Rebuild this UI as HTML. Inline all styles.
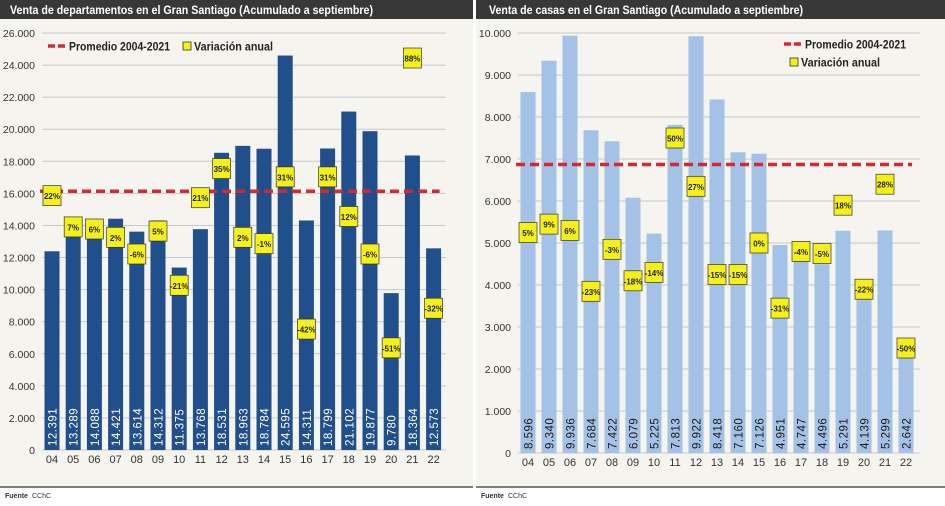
<!DOCTYPE html>
<html><head><meta charset="utf-8"><style>
body{margin:0;width:945px;height:506px;background:#fff;overflow:hidden;font-family:"Liberation Sans",sans-serif}
svg{position:absolute;top:0}
</style></head><body>
<svg id="c1" style="left:0" width="473" height="506"></svg>
<svg id="c2" style="left:476" width="469" height="506"></svg>
<script>
const years=["04","05","06","07","08","09","10","11","12","13","14","15","16","17","18","19","20","21","22"];
const deptValues=[12391,13289,14088,14421,13614,14312,11375,13768,18531,18963,18784,24595,14311,18799,21102,19877,9780,18364,12573];
const deptVar=[22,7,6,2,-6,5,-21,21,35,2,-1,31,-42,31,12,-6,-51,88,-32];
const deptTicks=[0,2000,4000,6000,8000,10000,12000,14000,16000,18000,20000,22000,24000,26000];
const deptAvg=16130;
const casaValues=[8596,9340,9936,7684,7422,6079,5225,7813,9922,8418,7160,7126,4951,4747,4496,5291,4139,5299,2642];
const casaVar=[5,9,6,-23,-3,-18,-14,50,27,-15,-15,0,-31,-4,-5,18,-22,28,-50];
const casaTicks=[0,1000,2000,3000,4000,5000,6000,7000,8000,9000,10000];
const casaAvg=6870;
const NS="http://www.w3.org/2000/svg";
function fmt(v){return v.toString().replace(/\B(?=(\d{3})+(?!\d))/g,".");}
function mk(p,t,a,txt){const e=document.createElementNS(NS,t);for(const k in a)e.setAttribute(k,a[k]);if(txt!==undefined)e.textContent=txt;p.appendChild(e);return e;}
function draw(svg,o){
  const W=+svg.getAttribute('width');
  const bg=mk(svg,'rect',{x:0,y:0,width:W,height:487,fill:'#f6f4ef'});
  
  
  const tb=mk(svg,'rect',{x:0,y:0,width:W,height:19,fill:'#383838'});
  
  
  const tt=mk(svg,'text',{x:o.titleX,y:14,fill:'#fff','font-size':11.5,'font-weight':'bold',textLength:o.titleLen,lengthAdjust:'spacingAndGlyphs'},o.title);
  
  
  const y=v=>o.y0-(v/o.max)*(o.y0-o.yTop);
  const yp=p=>o.y0-((p+100)/200)*(o.y0-o.yTop);
  const x=i=>o.x0+i*o.step;
  o.ticks.forEach(t=>{
    const g=mk(svg,'line',{x1:o.gridL,x2:o.gridR,y1:y(t),y2:y(t),stroke:'#c8c8c8','stroke-width':1});
    
    
    const l=mk(svg,'text',{x:o.gridL-7,y:y(t)+4,'text-anchor':'end','font-size':10.5,fill:'#333'},fmt(t));
    
    
  });
  o.values.forEach((v,i)=>{
    const b=mk(svg,'rect',{x:x(i)-7.5,y:y(v),width:15,height:o.y0-y(v),fill:o.color});
    
    
    const vl=mk(svg,'text',{x:0,y:0,transform:`translate(${x(i)+4.5},${o.y0-4}) rotate(-90)`,'font-size':11.5,fill:o.valColor,'letter-spacing':'0.5'},fmt(v));
    
    
    const xl=mk(svg,'text',{x:x(i),y:o.y0+o.xlOff,'text-anchor':'middle','font-size':11,fill:'#333'},years[i]);
    
    
  });
  const av=mk(svg,'line',{x1:o.x0-12,x2:x(18)+6,y1:y(o.avg),y2:y(o.avg),stroke:'#d7282f','stroke-width':3.5,'stroke-dasharray':'9,5'});
  
  
  o.vars.forEach((p,i)=>{
    const g=mk(svg,'g',{});
    
    
    mk(g,'rect',{x:x(i)-9,y:yp(p)-10,width:18,height:20,fill:'#f5f01a',stroke:'#333','stroke-width':0.7});
    mk(g,'text',{x:x(i),y:yp(p)+3.5,'text-anchor':'middle','font-size':8,'font-weight':'bold',fill:'#222'},p+'%');
  });
  const lg=mk(svg,'g',{});
  
  
  const L=o.leg;
  mk(lg,'line',{x1:L.x,x2:L.x+18,y1:L.y,y2:L.y,stroke:'#d7282f','stroke-width':3.5,'stroke-dasharray':'7,3'});
  mk(lg,'text',{x:L.x+21,y:L.y+4.5,'font-size':12,'font-weight':'bold',fill:'#222',textLength:101,lengthAdjust:'spacingAndGlyphs'},'Promedio 2004-2021');
  mk(lg,'rect',{x:L.x2,y:L.y2-4,width:8,height:8,fill:'#f5f01a',stroke:'#333','stroke-width':0.8});
  mk(lg,'text',{x:L.x2+11,y:L.y2+4.5,'font-size':12,'font-weight':'bold',fill:'#222',textLength:79,lengthAdjust:'spacingAndGlyphs'},'Variación anual');
  const fl=mk(svg,'line',{x1:0,x2:W,y1:487,y2:487,stroke:'#555','stroke-width':1.5});
  
  
  const ft=mk(svg,'text',{x:5,y:498,'font-size':7,fill:'#333'},'');
  
  
  mk(ft,'tspan',{'font-weight':'bold'},'Fuente');
  mk(ft,'tspan',{dx:4},'CChC');
}
draw(document.getElementById('c1'),{title:'Venta de departamentos en el Gran Santiago (Acumulado a septiembre)',titleX:10,titleLen:363,values:deptValues,vars:deptVar,ticks:deptTicks,avg:deptAvg,max:26000,y0:450,yTop:33,x0:52,step:21.2,gridL:42,gridR:446,color:'#204f8c',valColor:'#fff',xlOff:13,leg:{x:48,y:46,x2:183,y2:46}});
draw(document.getElementById('c2'),{title:'Venta de casas en el Gran Santiago (Acumulado a septiembre)',titleX:13,titleLen:314,values:casaValues,vars:casaVar,ticks:casaTicks,avg:casaAvg,max:10000,y0:453,yTop:33,x0:52,step:21,gridL:42,gridR:444,color:'#a3c2e6',valColor:'#1a1a1a',xlOff:13,leg:{x:308,y:44,x2:314,y2:62}});
</script>
</body></html>
